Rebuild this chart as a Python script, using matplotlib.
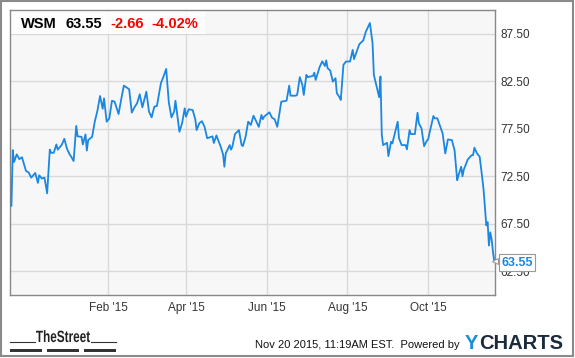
import pandas as pd
import matplotlib
matplotlib.use("Agg")
import matplotlib.pyplot as plt
import matplotlib.dates as mdates
from matplotlib.patches import Rectangle, PathPatch
from matplotlib.lines import Line2D
from matplotlib.textpath import TextPath
from matplotlib.font_manager import FontProperties
from matplotlib.transforms import Affine2D

plt.rcParams["font.family"] = ["Liberation Sans", "DejaVu Sans"]

# ---------------------------------------------------------------
# data (WSM closing price, one year)
# ---------------------------------------------------------------
DATES = [
    "2014-11-20", "2014-11-21", "2014-11-22", "2014-11-24", "2014-11-26",
    "2014-11-28", "2014-11-29", "2014-12-01", "2014-12-03", "2014-12-05",
    "2014-12-08", "2014-12-10", "2014-12-11", "2014-12-13", "2014-12-15",
    "2014-12-17", "2014-12-19", "2014-12-20", "2014-12-22", "2014-12-24",
    "2014-12-25", "2014-12-28", "2014-12-30", "2015-01-01", "2015-01-03",
    "2015-01-04", "2015-01-06", "2015-01-08", "2015-01-09", "2015-01-12",
    "2015-01-13", "2015-01-15", "2015-01-16", "2015-01-17", "2015-01-20",
    "2015-01-22", "2015-01-24", "2015-01-26", "2015-01-28", "2015-01-29",
    "2015-01-31", "2015-02-02", "2015-02-04", "2015-02-06", "2015-02-09",
    "2015-02-11", "2015-02-13", "2015-02-17", "2015-02-19", "2015-02-21",
    "2015-02-23", "2015-02-25", "2015-02-27", "2015-03-02", "2015-03-04",
    "2015-03-06", "2015-03-08", "2015-03-10", "2015-03-12", "2015-03-13",
    "2015-03-15", "2015-03-17", "2015-03-19", "2015-03-21", "2015-03-23",
    "2015-03-24", "2015-03-27", "2015-03-29", "2015-03-31", "2015-04-01",
    "2015-04-03", "2015-04-06", "2015-04-08", "2015-04-09", "2015-04-11",
    "2015-04-13", "2015-04-15", "2015-04-17", "2015-04-20", "2015-04-21",
    "2015-04-22", "2015-04-24", "2015-04-25", "2015-04-27", "2015-04-29",
    "2015-04-30", "2015-05-01", "2015-05-04", "2015-05-05", "2015-05-06",
    "2015-05-08", "2015-05-11", "2015-05-13", "2015-05-14", "2015-05-16",
    "2015-05-18", "2015-05-20", "2015-05-22", "2015-05-24", "2015-05-26",
    "2015-05-28", "2015-05-29", "2015-05-30", "2015-06-03", "2015-06-05",
    "2015-06-07", "2015-06-09", "2015-06-10", "2015-06-12", "2015-06-16",
    "2015-06-18", "2015-06-19", "2015-06-23", "2015-06-24", "2015-06-26",
    "2015-06-28", "2015-06-29", "2015-07-01", "2015-07-02", "2015-07-06",
    "2015-07-07", "2015-07-08", "2015-07-11", "2015-07-13", "2015-07-15",
    "2015-07-16", "2015-07-17", "2015-07-19", "2015-07-21", "2015-07-23",
    "2015-07-24", "2015-07-26", "2015-07-27", "2015-07-29", "2015-07-31",
    "2015-08-03", "2015-08-05", "2015-08-06", "2015-08-08", "2015-08-10",
    "2015-08-13", "2015-08-15", "2015-08-18", "2015-08-20", "2015-08-21",
    "2015-08-24", "2015-08-25", "2015-08-26", "2015-08-27", "2015-08-28",
    "2015-08-31", "2015-09-01", "2015-09-03", "2015-09-04", "2015-09-08",
    "2015-09-09", "2015-09-11", "2015-09-14", "2015-09-15", "2015-09-17",
    "2015-09-18", "2015-09-21", "2015-09-23", "2015-09-24", "2015-09-26",
    "2015-09-28", "2015-09-30", "2015-10-01", "2015-10-05", "2015-10-06",
    "2015-10-08", "2015-10-12", "2015-10-14", "2015-10-16", "2015-10-19",
    "2015-10-21", "2015-10-23", "2015-10-24", "2015-10-26", "2015-10-27",
    "2015-10-28", "2015-10-31", "2015-11-03", "2015-11-04", "2015-11-05",
    "2015-11-07", "2015-11-09", "2015-11-11", "2015-11-12", "2015-11-14",
    "2015-11-15", "2015-11-16", "2015-11-17", "2015-11-18", "2015-11-19",
    "2015-11-20",
]
PRICES = [
    69.40, 75.25, 74.00, 74.80, 74.30,
    74.50, 74.00, 73.06, 72.90, 72.35,
    72.85, 71.80, 72.60, 72.26, 72.35,
    70.70, 75.30, 74.97, 74.97, 75.85,
    75.30, 75.80, 76.44, 75.40, 74.80,
    74.60, 74.10, 77.80, 76.70, 76.65,
    75.85, 76.90, 75.20, 76.30, 76.65,
    78.24, 79.40, 80.95, 79.60, 80.70,
    78.24, 78.60, 80.45, 80.35, 79.05,
    80.60, 82.04, 81.66, 79.20, 79.76,
    80.18, 81.13, 79.76, 81.40, 79.30,
    78.70, 79.82, 79.90, 81.50, 82.30,
    83.00, 83.80, 80.25, 78.70, 79.30,
    80.45, 77.18, 78.07, 79.65, 78.77,
    79.55, 79.47, 78.50, 77.36, 78.07,
    78.30, 77.70, 76.50, 76.65, 76.70,
    76.00, 76.80, 76.40, 75.70, 74.80,
    73.50, 74.90, 75.78, 75.30, 75.60,
    76.94, 77.36, 75.78, 75.67, 76.65,
    78.24, 77.90, 78.87, 78.30, 77.70,
    78.95, 78.50, 78.77, 79.23, 78.66,
    78.50, 77.70, 78.60, 80.35, 80.45,
    82.04, 80.98, 80.98, 81.06, 82.93,
    82.10, 81.06, 83.17, 82.93, 83.07,
    83.40, 82.64, 84.00, 84.60, 84.10,
    84.70, 83.88, 83.63, 82.46, 82.82,
    81.24, 80.82, 80.53, 84.23, 84.58,
    84.58, 85.80, 84.83, 85.63, 86.40,
    86.80, 87.74, 88.63, 86.52, 83.17,
    81.40, 80.82, 83.00, 76.84, 75.78,
    76.02, 74.62, 76.13, 75.96, 78.24,
    76.50, 75.78, 75.78, 75.33, 77.36,
    76.94, 76.94, 79.19, 78.07, 77.54,
    75.67, 76.23, 76.38, 78.84, 78.60,
    78.60, 77.00, 74.90, 76.38, 76.30,
    75.25, 72.08, 72.60, 73.50, 72.50,
    73.20, 74.27, 74.72, 74.72, 75.50,
    74.90, 74.55, 72.26, 71.00, 67.33,
    67.67, 65.20, 66.60, 65.90, 64.60,
    63.55,
]

TICKER = "WSM"
LAST = "63.55"
CHANGE = "-2.66"
CHANGE_PCT = "-4.02%"
Y_TICKS = [62.5, 67.5, 72.5, 77.5, 82.5, 87.5]
X_TICKS = ["2015-02-01", "2015-04-01", "2015-06-01", "2015-08-01", "2015-10-01"]
FOOTER = "Nov 20 2015, 11:19AM EST.  Powered by"

LINE_BLUE = "#1a87e3"
GRID = "#d9d9d9"

W, H = 575, 358


def fx(px):
    return px / W


def fy(py):
    return 1 - py / H


def fitted_text(fig, s, x0, x1, y_top, y_base, color, weight="bold"):
    """Draw text squeezed into a pixel box (for the condensed logo)."""
    tp = TextPath((0, 0), s, size=10,
                  prop=FontProperties(family="Liberation Sans", weight=weight))
    ext = tp.get_extents()
    sx = fx(x1 - x0) / ext.width
    sy = (y_base - y_top) / H / ext.height
    tr = Affine2D().translate(-ext.x0, 0).scale(sx, sy).translate(fx(x0), fy(y_base))
    path = tr.transform_path(tp)
    fig.patches.append(PathPatch(path, transform=fig.transFigure,
                                 facecolor=color, edgecolor="none"))


def main():
    dates = pd.to_datetime(DATES)

    fig = plt.figure(figsize=(W / 100, H / 100), dpi=100)
    fig.patch.set_facecolor("white")

    # outer frame
    fig.patches.append(Rectangle((fx(1), fy(356)), fx(572), 355 / H,
                                 transform=fig.transFigure, fill=False,
                                 edgecolor="#8a8a8a", linewidth=1.5))

    ax = fig.add_axes([fx(10), fy(295), fx(485), 285 / H])
    ax.set_facecolor("#f7f7f7")
    ax.plot(dates, PRICES, color=LINE_BLUE, linewidth=1.3, zorder=3)

    ax.set_ylim(60, 90)
    ax.set_xlim(pd.Timestamp("2014-11-18 22:00"), pd.Timestamp("2015-11-20 14:00"))

    ax.yaxis.tick_right()
    ax.set_yticks(Y_TICKS)
    ax.set_yticklabels([f"{v:.2f}" for v in Y_TICKS])
    ax.set_xticks(pd.to_datetime(X_TICKS))
    ax.xaxis.set_major_formatter(mdates.DateFormatter("%b '%y"))
    ax.tick_params(length=0, labelsize=8.5, labelcolor="#333333")
    ax.tick_params(axis="y", pad=4)
    ax.tick_params(axis="x", pad=5)
    ax.grid(True, color=GRID, linewidth=1.0, zorder=0)
    ax.set_axisbelow(True)
    for s in ax.spines.values():
        s.set_color("#888888")
        s.set_linewidth(1.0)

    # header box with ticker / last / change
    ax.add_patch(Rectangle((0, 1 - 24 / 285), 195 / 485, 24 / 285,
                           transform=ax.transAxes, facecolor="white",
                           edgecolor="none", alpha=0.85, zorder=2))
    base = fy(28.5)
    fig.text(fx(21), base, TICKER, fontsize=10.5, fontweight="bold",
             color="black", va="baseline")
    fig.text(fx(65), base, LAST, fontsize=10.5, fontweight="bold",
             color="black", va="baseline")
    fig.text(fx(110), base, CHANGE, fontsize=10.5, fontweight="bold",
             color="#ff0000", va="baseline")
    fig.text(fx(151), base, CHANGE_PCT, fontsize=10.5, fontweight="bold",
             color="#ff0000", va="baseline")

    # last value flag at right edge
    ax.annotate(LAST, xy=(1.0, PRICES[-1]), xycoords=("axes fraction", "data"),
                xytext=(4.5, -1), textcoords="offset points", ha="left", va="center",
                fontsize=9, fontweight="bold", color=LINE_BLUE, zorder=6,
                annotation_clip=False,
                bbox=dict(boxstyle="square,pad=0.2", facecolor="white",
                          edgecolor="#999999", linewidth=0.8))
    ax.plot([1.0], [PRICES[-1]], marker="<", markersize=5, color="white",
            markeredgecolor="#999999", markeredgewidth=0.8,
            transform=ax.get_yaxis_transform(), clip_on=False, zorder=7)

    # footer: TheStreet logo
    fitted_text(fig, "TheStreet", 36, 90, 330, 342, "#222222")
    fig.lines.append(Line2D([fx(10), fx(35)], [fy(342), fy(342)],
                            transform=fig.transFigure, color="#333333", lw=0.8))
    fig.lines.append(Line2D([fx(91), fx(116)], [fy(342), fy(342)],
                            transform=fig.transFigure, color="#333333", lw=0.8))
    for x0 in (10, 47, 84):
        fig.patches.append(Rectangle((fx(x0), fy(352)), fx(32), 3.5 / H,
                                     transform=fig.transFigure,
                                     facecolor="#333333", edgecolor="none"))

    fig.text(fx(460), fy(348), FOOTER, fontsize=8, color="#111111",
             va="baseline", ha="right")
    fig.text(fx(465), fy(349), "Y", fontsize=14.5, fontweight="bold",
             color="#1a8fd8", va="baseline")
    fig.text(fx(479), fy(349), "CHARTS", fontsize=14.5, fontweight="bold",
             color="#1c2b3c", va="baseline")

    fig.savefig("out.png", dpi=100)


if __name__ == "__main__":
    main()
